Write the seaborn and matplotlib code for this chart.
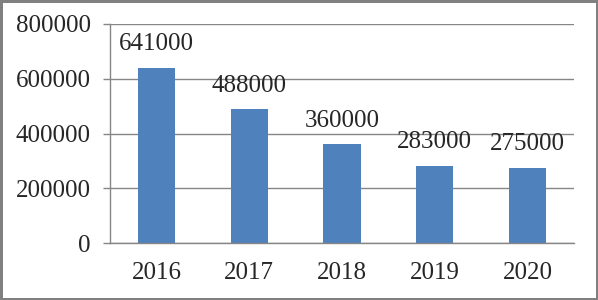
import seaborn as sns
import matplotlib.pyplot as plt
import pandas as pd

years = ["2016", "2017", "2018", "2019", "2020"]
values = [641000, 488000, 360000, 283000, 275000]
yticks = [0, 200000, 400000, 600000, 800000]

df = pd.DataFrame({"year": years, "value": values})

sns.set_style("white")
plt.rcParams["font.family"] = ["Liberation Serif", "DejaVu Serif"]

fig = plt.figure(figsize=(5.98, 3.0), dpi=100)
fig.patch.set_edgecolor("#808080")
fig.patch.set_linewidth(2.5)
ax = fig.add_axes([0.184, 0.19, 0.776, 0.73])

sns.barplot(data=df, x="year", y="value", color="#4F81BD", width=0.4,
            saturation=1, linewidth=0, ax=ax)

ax.set_ylim(0, 800000)
ax.set_yticks(yticks)
ax.set_yticklabels([str(v) for v in yticks], fontsize=18)
ax.set_xlim(-0.5, 4.5)
ax.set_xlabel("")
ax.set_ylabel("")
ax.yaxis.grid(True, color="#868686", linewidth=1)
ax.set_axisbelow(True)

ax.set_xticks(range(len(years)))
ax.set_xticklabels(years, fontsize=18)
ax.set_xticks([i - 0.5 for i in range(len(years) + 1)], minor=True)
ax.tick_params(axis="x", which="major", length=0, pad=14)
ax.tick_params(axis="x", which="minor", length=5, color="#868686", width=1)
ax.tick_params(axis="y", length=5, color="#868686", width=1, left=True, pad=9)

for s in ["top", "right"]:
    ax.spines[s].set_visible(False)
for s in ["left", "bottom"]:
    ax.spines[s].set_color("#868686")
    ax.spines[s].set_linewidth(1)

for i, v in enumerate(values):
    ax.annotate(str(v), (i, v), xytext=(0, 9), textcoords="offset points",
                ha="center", va="bottom", fontsize=18)

fig.savefig("out.png", dpi=100, edgecolor=fig.get_edgecolor())
